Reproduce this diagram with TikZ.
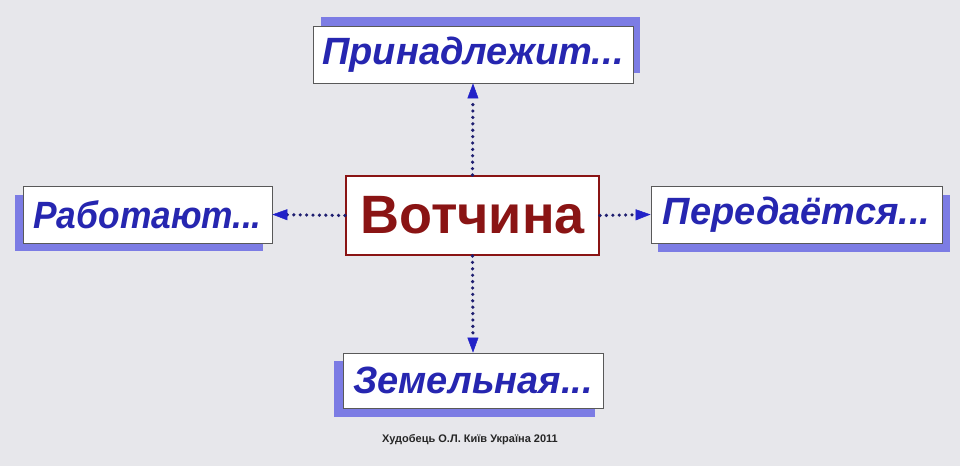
\documentclass[tikz,border=0pt]{standalone}
\usepackage{fontspec}
\setmainfont{Liberation Sans}
\usetikzlibrary{arrows.meta}
\definecolor{bg}{HTML}{E7E7EB}
\definecolor{txtblue}{HTML}{2626B0}
\definecolor{shadowblue}{HTML}{7C7CE4}
\definecolor{darkred}{HTML}{8A1414}
\definecolor{dotnavy}{HTML}{1E1E70}
\definecolor{headblue}{HTML}{2222C8}
\begin{document}
\begin{tikzpicture}[x=1pt,y=-1pt,
  bluebox/.style={draw=black!65,line width=0.8pt,fill=white,inner sep=0pt,
    font=\fontsize{38}{40}\selectfont\bfseries\itshape,text=txtblue},
  shadowbox/.style={fill=shadowblue},
  mainbox/.style={draw=darkred,line width=2pt,fill=white,inner sep=0pt,
    font=\fontsize{54}{56}\selectfont\bfseries,text=darkred},
  conn/.style={draw=dotnavy,line width=3.6pt,dash pattern=on 0pt off 6.4pt,line cap=round,
    -{Triangle[length=15pt,width=11pt,fill=headblue,color=headblue,line cap=butt,line width=0.5pt]}}]
\useasboundingbox[fill=bg] (0,0) rectangle (960,466);
% shadows
\fill[shadowbox] (321,17) rectangle (640,73);
\fill[shadowbox] (15,195) rectangle (263,251);
\fill[shadowbox] (658,195) rectangle (950,252);
\fill[shadowbox] (334,361) rectangle (595,417);
% boxes
\node[bluebox,minimum width=320pt,minimum height=57pt] (top) at (473,54.5) {Принадлежит...};
\node[bluebox,minimum width=249pt,minimum height=57pt] (left) at (147.5,214.5) {\scalebox{0.93}[1]{Работают...}};
\node[bluebox,minimum width=291pt,minimum height=57pt] (right) at (796.5,214.5) {Передаётся...};
\node[bluebox,minimum width=260pt,minimum height=55pt] (bottom) at (473,380.5) {Земельная...};
\node[mainbox,minimum width=253pt,minimum height=79pt] (main) at (472.5,215.5) {Вотчина};
% connectors
\draw[conn] (main.north) -- (top.south);
\draw[conn] (main.south) -- (bottom.north);
\draw[conn] (main.west) -- (left.east);
\draw[conn] (main.east) -- (right.west);
% footer
\node[font=\fontsize{11}{12}\selectfont\bfseries,text=black!85] (footer) at (470,440) {Худобець О.Л. Київ Україна 2011};
\end{tikzpicture}
\end{document}
